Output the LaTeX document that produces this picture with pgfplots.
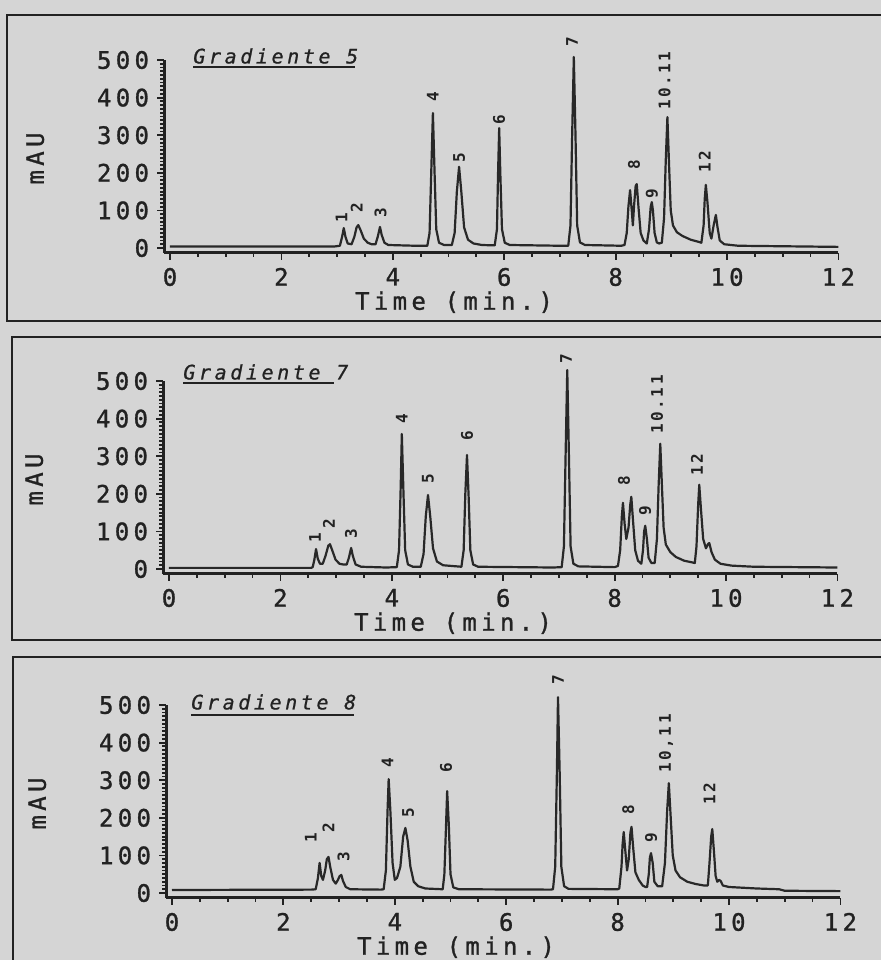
\documentclass[border=0pt]{standalone}
\usepackage{pgfplots}
\pgfplotsset{compat=1.18}
\usepackage{fontspec}
\newfontfamily\plotfont[LetterSpace=18, FakeBold=1.2]{DejaVu Sans Mono}
\newfontfamily\titlefam[LetterSpace=18, FakeBold=0.8]{DejaVu Sans Mono Oblique}
\newfontfamily\labelfont[LetterSpace=16]{DejaVu Sans Mono Bold}
\newcommand\tickfont{\plotfont\fontsize{12}{12}\selectfont}
\newcommand\titlefont{\titlefam\fontsize{10}{10}\selectfont}
\newcommand\peakfont{\labelfont\fontsize{8}{8}\selectfont}
\definecolor{paper}{RGB}{213,213,213}
\definecolor{ink}{RGB}{34,34,34}
\definecolor{trace}{RGB}{40,40,40}

\pgfplotsset{
  chrom/.style={
    anchor=origin,
    x=27.85pt, y=0.188pt,
    xmin=-0.1, xmax=12, ymin=-12, ymax=500,
    axis x line=bottom, axis y line=left,
    axis line style={-, line width=1.1pt, color=ink},
    clip=false,
    xtick={0,2,...,12}, ytick={0,100,...,500},
    minor x tick num=3, minor y tick num=9,
    tick align=outside,
    major tick length=3.5pt, minor tick length=2pt,
    every tick/.style={line width=0.9pt, color=ink},
    /pgf/number format/assume math mode=true,
    ticklabel style={font=\tickfont, text=ink},
    xticklabel style={anchor=north, inner sep=0pt, yshift=-4pt},
    yticklabel style={anchor=east, inner sep=0pt, xshift=-4pt},
  },
  trace/.style={color=trace, mark=none, line width=1.1pt, line join=round},
}
\tikzset{
  lbl/.style={rotate=90, anchor=west, inner sep=0pt, font=\peakfont, text=ink},
  axtext/.style={inner sep=0pt, font=\tickfont, text=ink},
}

\begin{document}
\begin{tikzpicture}
\useasboundingbox (0,0) rectangle (440.5pt,-480pt);
\clip (0,0) rectangle (440.5pt,-480pt);
\fill[paper] (-5pt,5pt) rectangle (450pt,-490pt);

% panel frames
\draw[ink, line width=1.1pt] (460pt,-7.5pt) -- (3.5pt,-7.5pt) -- (3.5pt,-160.5pt) -- (460pt,-160.5pt);
\draw[ink, line width=1.1pt] (460pt,-168.5pt) -- (6pt,-168.5pt) -- (6pt,-320pt) -- (460pt,-320pt);
\draw[ink, line width=1.1pt] (460pt,-328.5pt) -- (6.5pt,-328.5pt) -- (6.5pt,-490pt);

% gradient titles
\node[anchor=west, inner sep=0pt, font=\titlefont, text=ink] at (96.5pt,-28pt) {Gradiente 5};
\draw[ink, line width=0.9pt] (96.5pt,-33.5pt) -- (177.5pt,-33.5pt);
\node[anchor=west, inner sep=0pt, font=\titlefont, text=ink] at (91.5pt,-186pt) {Gradiente 7};
\draw[ink, line width=0.9pt] (91.5pt,-191.5pt) -- (167pt,-191.5pt);
\node[anchor=west, inner sep=0pt, font=\titlefont, text=ink] at (95.5pt,-351pt) {Gradiente 8};
\draw[ink, line width=0.9pt] (95.5pt,-357.5pt) -- (177pt,-357.5pt);

% ---------------- Gradiente 5 ----------------
\begin{axis}[chrom, at={(85pt,-124pt)}]
\addplot[trace] coordinates {
(0,4) (2.95,4) (3.0,5)
(3.05,6) (3.09,30) (3.12,53) (3.15,30) (3.19,12)
(3.26,10) (3.31,30) (3.35,55) (3.38,61) (3.42,48) (3.48,25) (3.55,14) (3.62,10)
(3.69,10) (3.73,30) (3.77,56) (3.80,35) (3.85,14) (3.92,8)
(4.40,6)
(4.62,6) (4.66,40) (4.69,200) (4.72,359) (4.75,200) (4.78,50) (4.83,14) (4.92,8)
(5.06,8) (5.11,40) (5.15,150) (5.19,216) (5.23,150) (5.28,55) (5.35,22) (5.45,12) (5.60,8)
(5.83,7) (5.87,50) (5.89,200) (5.91,319) (5.93,200) (5.96,50) (6.01,14) (6.10,8)
(7.00,6)
(7.15,6) (7.19,60) (7.22,300) (7.25,508) (7.28,300) (7.31,60) (7.36,15) (7.45,8)
(8.10,6)
(8.16,8) (8.20,40) (8.23,110) (8.26,154) (8.29,100) (8.31,60) (8.33,110) (8.36,165) (8.38,170) (8.41,110) (8.45,40) (8.50,20)
(8.56,12) (8.60,50) (8.63,110) (8.65,122) (8.67,100) (8.70,40) (8.74,15) (8.78,12)
(8.83,14) (8.87,80) (8.90,230) (8.93,348) (8.96,220) (8.99,100) (9.03,60) (9.10,42) (9.20,32) (9.35,22) (9.50,16)
(9.54,14) (9.58,60) (9.60,130) (9.62,168) (9.65,120) (9.69,40) (9.72,25) (9.76,60) (9.80,88) (9.83,55) (9.87,20) (9.95,10) (10.20,6)
(12,3)
};
\node[lbl] at (axis cs:3.08,66) {1};
\node[lbl] at (axis cs:3.35,93) {2};
\node[lbl] at (axis cs:3.78,80) {3};
\node[lbl] at (axis cs:4.72,388) {4};
\node[lbl] at (axis cs:5.19,226) {5};
\node[lbl] at (axis cs:5.91,327) {6};
\node[lbl] at (axis cs:7.22,535) {7};
\node[lbl] at (axis cs:8.33,207) {8};
\node[lbl] at (axis cs:8.65,130) {9};
\node[lbl] at (axis cs:8.88,366) {10.11};
\node[lbl] at (axis cs:9.60,200) {12};
\node[axtext] at (axis cs:5.1,-144) {Time (min.)};
\node[axtext, rotate=90] at (axis cs:-2.42,238) {mAU};
\end{axis}

% ---------------- Gradiente 7 ----------------
\begin{axis}[chrom, at={(84.5pt,-284.5pt)}]
\addplot[trace] coordinates {
(0,3) (2.55,3)
(2.58,5) (2.61,25) (2.64,53) (2.67,28) (2.71,14)
(2.76,14) (2.81,35) (2.86,62) (2.89,66) (2.93,50) (2.99,25) (3.06,14) (3.13,12)
(3.19,12) (3.23,30) (3.27,56) (3.30,35) (3.35,12) (3.45,6)
(3.90,4)
(4.09,5) (4.13,50) (4.16,220) (4.18,359) (4.21,200) (4.24,50) (4.29,12) (4.38,6)
(4.52,6) (4.57,40) (4.61,140) (4.65,197) (4.69,140) (4.74,55) (4.81,20) (4.92,10)
(5.25,6) (5.29,50) (5.32,200) (5.35,303) (5.38,190) (5.41,50) (5.46,12) (5.55,6)
(6.90,4)
(7.05,5) (7.09,60) (7.12,300) (7.15,529) (7.18,300) (7.21,60) (7.26,14) (7.35,7)
(8.00,5)
(8.06,8) (8.10,50) (8.13,140) (8.15,176) (8.18,120) (8.21,80) (8.25,110) (8.28,170) (8.30,192) (8.33,130) (8.37,50) (8.42,22) (8.47,15)
(8.48,14) (8.51,50) (8.53,100) (8.55,115) (8.58,80) (8.61,30) (8.66,16)
(8.72,16) (8.76,80) (8.79,220) (8.82,333) (8.85,220) (8.88,110) (8.92,65) (9.00,45) (9.10,32) (9.25,22) (9.38,18)
(9.44,16) (9.47,60) (9.50,170) (9.52,224) (9.55,160) (9.59,80) (9.64,55) (9.68,67) (9.70,69) (9.74,45) (9.80,25) (9.90,14) (10.10,9) (10.50,6)
(12,4)
};
\node[lbl] at (axis cs:2.62,69) {1};
\node[lbl] at (axis cs:2.87,106) {2};
\node[lbl] at (axis cs:3.27,80) {3};
\node[lbl] at (axis cs:4.18,386) {4};
\node[lbl] at (axis cs:4.65,226) {5};
\node[lbl] at (axis cs:5.35,340) {6};
\node[lbl] at (axis cs:7.13,545) {7};
\node[lbl] at (axis cs:8.17,221) {8};
\node[lbl] at (axis cs:8.55,141) {9};
\node[lbl] at (axis cs:8.76,359) {10.11};
\node[lbl] at (axis cs:9.48,247) {12};
\node[axtext] at (axis cs:5.1,-144) {Time (min.)};
\node[axtext, rotate=90] at (axis cs:-2.42,238) {mAU};
\end{axis}

% ---------------- Gradiente 8 ----------------
\begin{axis}[chrom, at={(86pt,-446.5pt)}]
\addplot[trace] coordinates {
(0,8) (2.50,9)
(2.58,10) (2.62,40) (2.65,80) (2.68,45) (2.71,35) (2.75,60) (2.78,90) (2.81,96) (2.84,70) (2.89,35) (2.94,25) (2.98,35) (3.01,45) (3.04,48) (3.07,32) (3.12,16) (3.20,10)
(3.75,9)
(3.80,10) (3.84,60) (3.87,220) (3.89,303) (3.92,220) (3.96,80) (4.00,35) (4.04,40)
(4.10,70) (4.15,150) (4.19,173) (4.23,140) (4.28,70) (4.34,30) (4.42,18) (4.55,12)
(4.86,10) (4.89,50) (4.92,180) (4.94,271) (4.97,180) (5.00,50) (5.05,15) (5.15,10)
(6.80,9)
(6.84,10) (6.88,70) (6.91,320) (6.93,521) (6.96,320) (6.99,70) (7.04,18) (7.12,11)
(8.00,10)
(8.03,12) (8.07,70) (8.09,130) (8.11,162) (8.14,110) (8.17,60) (8.20,90) (8.23,160) (8.25,176) (8.28,120) (8.32,55) (8.38,35) (8.45,20) (8.50,16)
(8.53,16) (8.56,50) (8.58,95) (8.60,106) (8.63,80) (8.66,30) (8.72,18)
(8.80,18) (8.85,80) (8.89,220) (8.92,292) (8.95,210) (8.99,100) (9.04,60) (9.12,42) (9.25,30) (9.40,24) (9.55,20)
(9.62,20) (9.65,80) (9.68,150) (9.70,170) (9.73,110) (9.76,45) (9.79,30) (9.82,35) (9.85,32) (9.89,20) (10.00,16) (10.50,12) (10.90,10) (11.00,6)
(12,5)
};
\node[lbl] at (axis cs:2.49,133) {1};
\node[lbl] at (axis cs:2.81,160) {2};
\node[lbl] at (axis cs:3.08,82) {3};
\node[lbl] at (axis cs:3.87,332) {4};
\node[lbl] at (axis cs:4.24,200) {5};
\node[lbl] at (axis cs:4.92,319) {6};
\node[lbl] at (axis cs:6.93,553) {7};
\node[lbl] at (axis cs:8.19,207) {8};
\node[lbl] at (axis cs:8.60,133) {9};
\node[lbl] at (axis cs:8.87,319) {10,11};
\node[lbl] at (axis cs:9.65,234) {12};
\node[axtext] at (axis cs:5.1,-144) {Time (min.)};
\node[axtext, rotate=90] at (axis cs:-2.42,238) {mAU};
\end{axis}
\end{tikzpicture}
\end{document}
